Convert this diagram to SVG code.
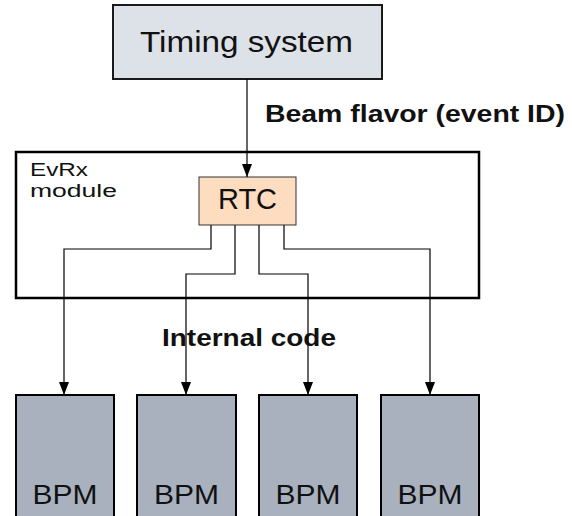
<svg xmlns="http://www.w3.org/2000/svg" width="572" height="516" viewBox="0 0 572 516">
  <style>
    text { font-family: "Liberation Sans", Arial, sans-serif; fill: #111; }
    .lbl { font-weight: bold; font-size: 23px; }
    .conn { fill: none; stroke: #000; stroke-width: 1.2; }
    .bpm rect { fill: #a8b1bd; stroke: #000; stroke-width: 2; }
    .bpm text { font-size: 28px; text-anchor: middle; }
  </style>
  <defs>
    <marker id="arrow" viewBox="0 0 13 10" refX="13" refY="5" markerWidth="13" markerHeight="10" markerUnits="userSpaceOnUse" orient="auto">
      <path d="M0,0 L13,5 L0,10 z" fill="#000"/>
    </marker>
  </defs>

  <g id="timing">
    <rect x="113" y="5" width="269" height="74" fill="#dde1e8" stroke="#1a1a1a" stroke-width="2"/>
    <text x="140" y="52" font-size="30" textLength="213" lengthAdjust="spacingAndGlyphs">Timing system</text>
  </g>

  <g id="evrx">
    <rect x="16" y="152" width="463" height="146" fill="none" stroke="#000" stroke-width="2.5"/>
    <text x="30" y="176" font-size="18" textLength="58" lengthAdjust="spacingAndGlyphs">EvRx</text>
    <text x="30" y="197" font-size="18" textLength="87" lengthAdjust="spacingAndGlyphs">module</text>
  </g>

  <g id="rtc">
    <rect x="199" y="177" width="97" height="48" fill="#fddcbf" stroke="#333" stroke-width="1"/>
    <text x="218" y="209" font-size="29" textLength="59" lengthAdjust="spacingAndGlyphs">RTC</text>
  </g>

  <g id="bpm1" class="bpm">
    <rect x="16" y="395" width="98" height="140"/>
    <text x="65" y="504" textLength="65" lengthAdjust="spacingAndGlyphs">BPM</text>
  </g>
  <g id="bpm2" class="bpm">
    <rect x="137" y="395" width="99" height="140"/>
    <text x="186.5" y="504" textLength="65" lengthAdjust="spacingAndGlyphs">BPM</text>
  </g>
  <g id="bpm3" class="bpm">
    <rect x="259" y="395" width="98" height="140"/>
    <text x="308" y="504" textLength="65" lengthAdjust="spacingAndGlyphs">BPM</text>
  </g>
  <g id="bpm4" class="bpm">
    <rect x="381" y="395" width="98" height="140"/>
    <text x="430" y="504" textLength="65" lengthAdjust="spacingAndGlyphs">BPM</text>
  </g>

  <g id="connectors">
    <path class="conn" d="M247,79 V177" marker-end="url(#arrow)"/>
    <path class="conn" d="M211,225 V249 H64 V395" marker-end="url(#arrow)"/>
    <path class="conn" d="M235,225 V274 H186 V395" marker-end="url(#arrow)"/>
    <path class="conn" d="M259,225 V274 H308 V395" marker-end="url(#arrow)"/>
    <path class="conn" d="M284,225 V249 H430 V395" marker-end="url(#arrow)"/>
    <text class="lbl" x="265" y="122" textLength="300" lengthAdjust="spacingAndGlyphs">Beam flavor (event ID)</text>
    <text class="lbl" x="162" y="346" textLength="174" lengthAdjust="spacingAndGlyphs">Internal code</text>
  </g>
</svg>
